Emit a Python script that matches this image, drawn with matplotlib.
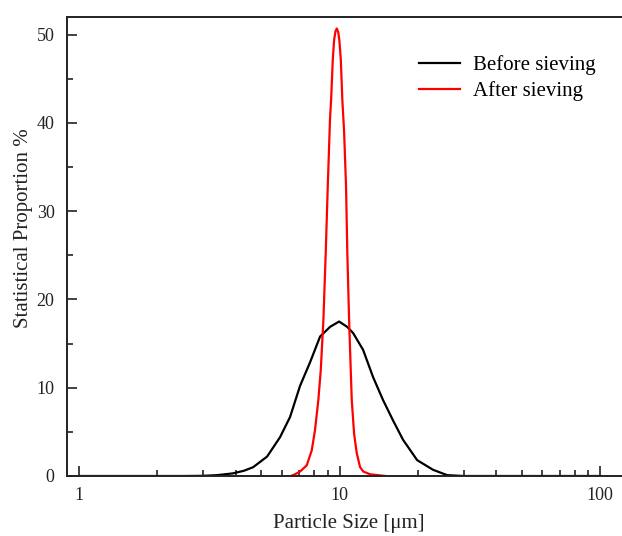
import numpy as np
import matplotlib
matplotlib.use("Agg")
import matplotlib.pyplot as plt
from matplotlib.ticker import MultipleLocator, LogLocator, FixedFormatter, FixedLocator

# particle size (um) and proportion (%)
size_before = [1.0, 2.5, 3.0, 3.4, 3.9, 4.3, 4.66, 5.27, 5.91, 6.46, 7.05, 7.71, 8.42,
               9.2, 9.96, 10.69, 11.27, 12.31, 13.45, 14.69, 16.04, 17.53, 19.85,
               22.86, 25.86, 30.0, 40.0, 100.0]
prop_before = [0.0, 0.0, 0.02, 0.1, 0.3, 0.6, 1.0, 2.2, 4.4, 6.7, 10.2, 12.9, 15.8,
               16.9, 17.5, 16.9, 16.2, 14.3, 11.2, 8.6, 6.3, 4.1, 1.8,
               0.7, 0.1, 0.0, 0.0, 0.0]

size_after = [6.5, 6.75, 7.05, 7.48, 7.82, 8.05, 8.29, 8.47, 8.67, 8.85, 9.01, 9.19,
              9.28, 9.42, 9.53, 9.65, 9.76, 9.88, 9.98, 10.11, 10.25, 10.41, 10.59,
              10.71, 10.88, 11.04, 11.14, 11.37, 11.64, 11.99, 12.34, 13.09, 15.0]
prop_after = [0.0, 0.2, 0.5, 1.2, 2.9, 5.2, 8.6, 12.0, 17.7, 25.3, 32.8, 40.4,
              42.6, 47.2, 49.4, 50.4, 50.7, 50.3, 49.4, 47.2, 42.6, 39.0, 32.8,
              25.3, 17.7, 12.0, 8.6, 4.8, 2.6, 1.0, 0.5, 0.2, 0.0]

labels = ["Before sieving", "After sieving"]

plt.rcParams['font.family'] = ['Liberation Serif', 'DejaVu Serif']

fig = plt.figure(figsize=(6.22, 5.36), dpi=100)
ax = fig.add_axes([67/622, 60/536, 1 - 67/622, 459/536])

ax.plot(size_before, prop_before, color='black', lw=1.6, label=labels[0])
ax.plot(size_after, prop_after, color='#ff0000', lw=1.6, label=labels[1])

ax.set_xscale('log')
ax.set_xlim(0.899, 121.4)
ax.set_ylim(0, 52)

ax.xaxis.set_major_locator(FixedLocator([1, 10, 100]))
ax.xaxis.set_major_formatter(FixedFormatter(['1', '10', '100']))
ax.xaxis.set_minor_locator(LogLocator(base=10, subs=np.arange(2, 10)))
ax.yaxis.set_major_locator(MultipleLocator(10))
ax.yaxis.set_minor_locator(MultipleLocator(5))

ax.tick_params(which='both', direction='in', labelsize=13, width=1.2, color='#222222',
               labelcolor='#222222')
ax.tick_params(which='major', length=7)
ax.tick_params(which='minor', length=4)
ax.tick_params(axis='x', pad=8)
ax.tick_params(axis='y', pad=9)

ax.spines['right'].set_visible(False)
for s in ['left', 'bottom', 'top']:
    ax.spines[s].set_linewidth(1.4)
    ax.spines[s].set_color('#222222')

ax.set_xlabel('Particle Size [μm]', fontsize=15, color='#222222')
ax.set_ylabel('Statistical Proportion %', fontsize=15, color='#222222')
ax.xaxis.set_label_coords(0.508, -0.082)
ax.yaxis.set_label_coords(-0.061, 0.54)

ax.legend(loc='upper left', bbox_to_anchor=(0.60, 0.958), frameon=False, fontsize=15,
          handlelength=2.0, handletextpad=0.6, labelspacing=0.3)

fig.savefig('out.png', dpi=100)
